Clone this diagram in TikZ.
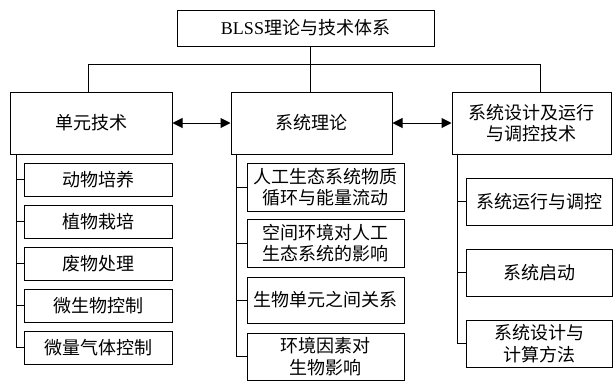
\documentclass[tikz,border=0pt]{standalone}
\usepackage{fontspec}
\setmainfont{Noto Sans CJK SC}
\newfontfamily\lat{Liberation Serif}
\usetikzlibrary{arrows.meta}
\begin{document}
\begin{tikzpicture}[x=1pt,y=-1pt,
  box/.style={draw,line width=1pt,inner sep=0pt,align=center,
    font=\fontsize{18}{21.5}\selectfont},
  con/.style={line width=1pt},
  biarrow/.style={con,{Triangle[length=10pt,width=10pt]}-{Triangle[length=10pt,width=10pt]}}]
\useasboundingbox (0,0) rectangle (613,381);
% top
\node[box,minimum width=257pt,minimum height=36pt] (top) at (305.5,28) {{\lat BLSS}理论与技术体系};
% level 1
\node[box,minimum width=162pt,minimum height=62pt] (L) at (91,123) {单元技术};
\node[box,minimum width=161pt,minimum height=62pt] (M) at (311.5,123) {系统理论};
\node[box,minimum width=159pt,minimum height=62pt] (R) at (531.5,123) {系统设计及运行\\与调控技术};
% left subs
\node[box,minimum width=148pt,minimum height=33pt] (l1) at (98,179.5) {动物培养};
\node[box,minimum width=148pt,minimum height=33pt] (l2) at (98,221.5) {植物栽培};
\node[box,minimum width=148pt,minimum height=33pt] (l3) at (98,263.5) {废物处理};
\node[box,minimum width=148pt,minimum height=33pt] (l4) at (98,305.5) {微生物控制};
\node[box,minimum width=148pt,minimum height=33pt] (l5) at (98,347.5) {微量气体控制};
% middle subs
\node[box,minimum width=157pt,minimum height=48pt] (m1) at (325.5,187) {人工生态系统物质\\循环与能量流动};
\node[box,minimum width=157pt,minimum height=48pt] (m2) at (325.5,243) {空间环境对人工\\生态系统的影响};
\node[box,minimum width=157pt,minimum height=46pt] (m3) at (325.5,300) {生物单元之间关系};
\node[box,minimum width=157pt,minimum height=47pt] (m4) at (325.5,356.5) {环境因素对\\生物影响};
% right subs
\node[box,minimum width=146pt,minimum height=47pt] (r1) at (539,201.5) {系统运行与调控};
\node[box,minimum width=146pt,minimum height=47pt] (r2) at (539,272.5) {系统启动};
\node[box,minimum width=146pt,minimum height=47pt] (r3) at (539,343.5) {系统设计与\\计算方法};
% junction coordinates
\coordinate (tj) at (310,64);
\coordinate (lj) at (88,64);
\coordinate (rj) at (540,64);
\coordinate (lb) at (16,154);
\coordinate (mb) at (236,154);
\coordinate (rb) at (457,154);
% tree connectors
\draw[con] (top.south -| tj) -- (tj);
\draw[con] (L.north -| lj) -- (lj) -- (rj) -- (R.north -| rj);
\draw[con] (tj) -- (M.north -| tj);
% arrows
\draw[biarrow] (L.east) -- (M.west);
\draw[biarrow] (M.east) -- (R.west);
% brackets
\draw[con] (L.south -| lb) |- (l5.west);
\foreach \n in {l1,l2,l3,l4} \draw[con] (\n.west) -- (\n.west -| lb);
\draw[con] (M.south -| mb) |- (m4.west);
\foreach \n in {m1,m2,m3} \draw[con] (\n.west) -- (\n.west -| mb);
\draw[con] (R.south -| rb) |- (r3.west);
\foreach \n in {r1,r2} \draw[con] (\n.west) -- (\n.west -| rb);
\end{tikzpicture}
\end{document}
